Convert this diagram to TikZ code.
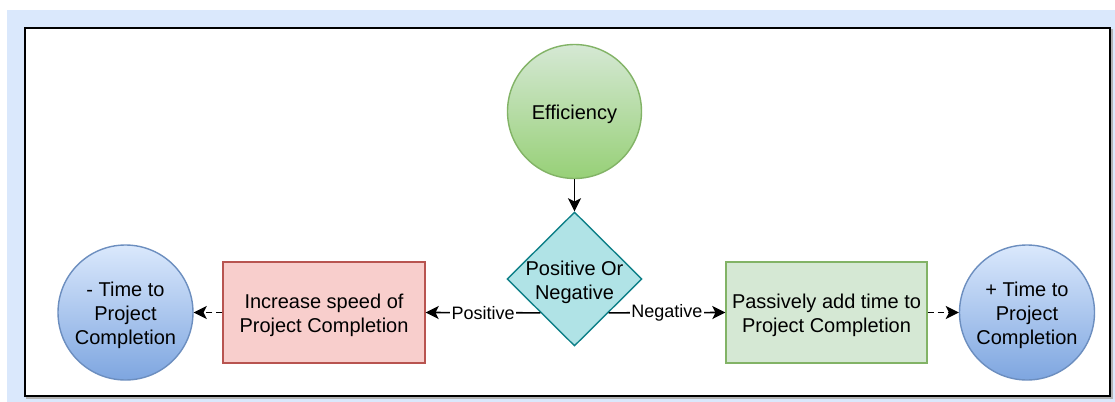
\documentclass[tikz,border=0pt]{standalone}
\usepackage{fontspec}
\setmainfont{Liberation Sans}
\usetikzlibrary{shapes.geometric,arrows.meta,calc}
\definecolor{pagebg}{HTML}{DAE8FC}
\definecolor{greenfillA}{HTML}{D5E8D4}
\definecolor{greenfillB}{HTML}{97D077}
\definecolor{greenline}{HTML}{82B366}
\definecolor{bluefillA}{HTML}{DAE8FC}
\definecolor{bluefillB}{HTML}{7EA6E0}
\definecolor{blueline}{HTML}{6C8EBF}
\definecolor{tealfill}{HTML}{B0E3E6}
\definecolor{tealline}{HTML}{0E8088}
\definecolor{redfill}{HTML}{F8CECC}
\definecolor{redline}{HTML}{B85450}
\begin{document}
\begin{tikzpicture}[x=0.5pt,y=-0.5pt,
  nodetext/.style={font=\fontsize{10}{12}\selectfont, align=center, text=black,
    inner sep=0pt, yshift=-1.6pt},
  greencircle/.style={circle, draw=greenline, line width=0.7pt,
    top color=greenfillA, bottom color=greenfillB, minimum size=67pt, inner sep=0pt},
  bluecircle/.style={circle, draw=blueline, line width=0.7pt,
    top color=bluefillA, bottom color=bluefillB, minimum size=67.5pt, inner sep=0pt},
  decision/.style={diamond, draw=tealline, fill=tealfill, line width=0.7pt,
    minimum width=67.5pt, minimum height=67pt, inner sep=0pt},
  redbox/.style={rectangle, draw=redline, fill=redfill,
    line width=0.7pt, minimum width=101pt, minimum height=50.5pt, inner sep=0pt},
  greenbox/.style={rectangle, draw=greenline, fill=greenfillA,
    line width=0.7pt, minimum width=100.5pt, minimum height=50.5pt, inner sep=0pt},
  conn/.style={draw=black, line width=0.8pt, -{Stealth[length=6.5pt,width=6.5pt,inset=1.6pt]}},
  dashconn/.style={conn, dash pattern=on 3pt off 2pt},
  edgelabel/.style={font=\fontsize{9}{10}\selectfont, fill=white, text=black, inner sep=0.6pt}
]
\useasboundingbox (0,0) rectangle (1115,402);
% page background and framed drawing area
\fill[pagebg] (7,10) rectangle (1115,402);
\draw[black!30, line width=1pt] (27,30) rectangle (1112,398);
\fill[white] (25,28) rectangle (1110,396);
\draw[black, line width=1pt] (25,28) rectangle (1110,396);

% nodes (shapes carry their text as a centred label)
\node[greencircle, label={[nodetext]center:Efficiency}] (eff) at (574.5,111.5) {};
\node[decision, label={[nodetext]center:Positive Or\\Negative}] (dec) at (574.5,279) {};
\node[redbox, label={[nodetext]center:Increase speed of\\Project Completion}] (inc) at (324,312.5) {};
\node[greenbox, label={[nodetext]center:Passively add time to\\Project Completion}] (pas) at (826.5,312.5) {};
\node[bluecircle, label={[nodetext]center:- Time to\\Project\\Completion}] (minus) at (125.5,312.5) {};
\node[bluecircle, label={[nodetext]center:+ Time to\\Project\\Completion}] (plus) at (1027,312.5) {};

% exit points on the lower edges of the decision
\coordinate (decleft) at ($(dec.west)!0.5!(dec.south)$);
\coordinate (decright) at ($(dec.east)!0.5!(dec.south)$);

% connectors
\draw[conn] (eff.south) -- (dec.north);
\draw[conn] (decleft) -- node[edgelabel] {Positive} (inc.east);
\draw[conn] (decright) -- node[edgelabel] {Negative} (pas.west);
\draw[dashconn] (inc.west) -- (minus.east);
\draw[dashconn] (pas.east) -- (plus.west);
\end{tikzpicture}
\end{document}
